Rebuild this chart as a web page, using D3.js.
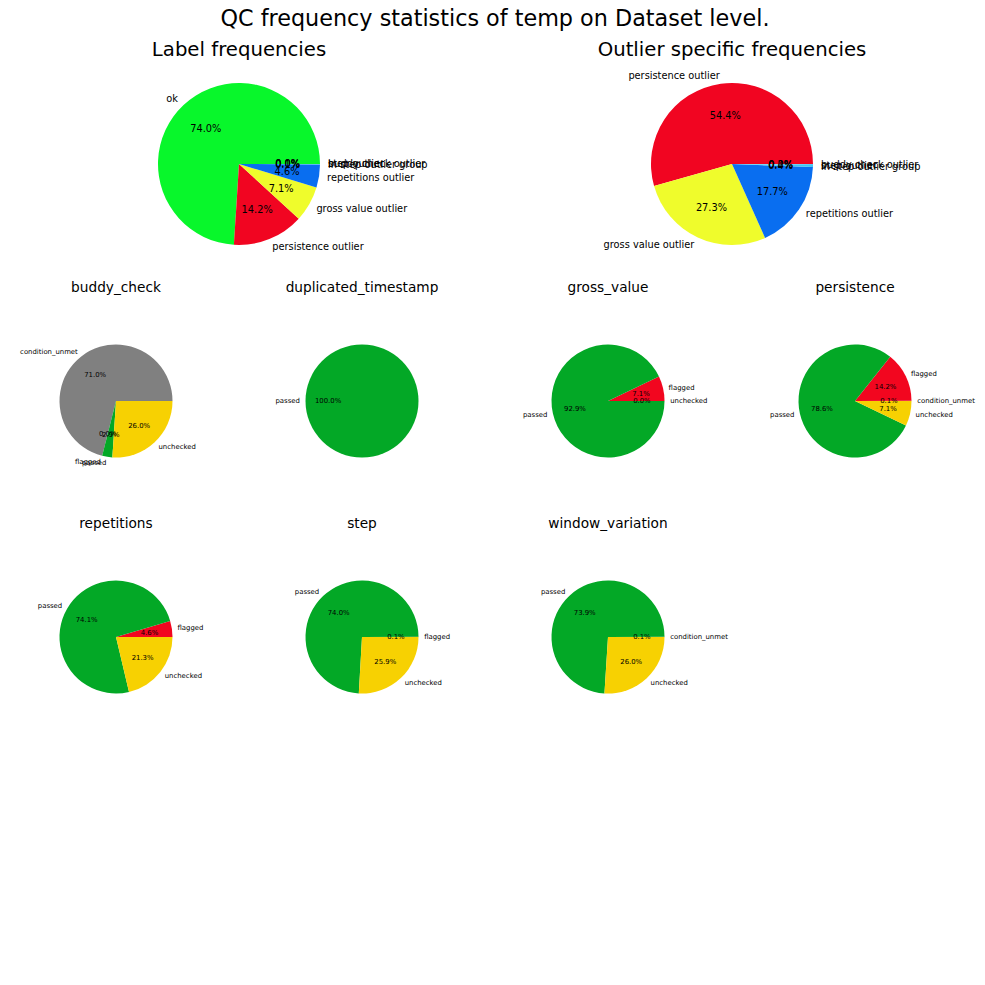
<!DOCTYPE html>
<meta charset="utf-8">
<style>
body { margin: 0; background: #fff; }
text { font-family: "DejaVu Sans", sans-serif; fill: #000; }
</style>
<body>
<script src="https://cdn.jsdelivr.net/npm/d3@7"></script>
<script>

// ---- data (percent values) ----
var labelNames = ["ok", "persistence outlier", "gross value outlier", "repetitions outlier",
                  "in step outlier group", "step outlier", "buddy check outlier"];
var labelValues = [74.0, 14.2, 7.1, 4.6, 0.1, 0.0, 0.0];

var outlierNames = ["persistence outlier", "gross value outlier", "repetitions outlier",
                    "in step outlier group", "step outlier", "buddy check outlier"];
var outlierValues = [54.4, 27.3, 17.7, 0.4, 0.0, 0.2];

var checkTitles = ["buddy_check", "duplicated_timestamp", "gross_value", "persistence",
                   "repetitions", "step", "window_variation"];
var checkCategories = [
  ["condition_unmet", "flagged", "passed", "unchecked"],
  ["passed"],
  ["flagged", "passed", "unchecked"],
  ["condition_unmet", "flagged", "passed", "unchecked"],
  ["flagged", "passed", "unchecked"],
  ["flagged", "passed", "unchecked"],
  ["condition_unmet", "passed", "unchecked"]
];
var checkValues = [
  [71.0, 0.0, 2.9, 26.0],
  [100.0],
  [7.1, 92.9, 0.0],
  [0.1, 14.2, 78.6, 7.1],
  [4.6, 74.1, 21.3],
  [0.1, 74.0, 25.9],
  [0.1, 73.9, 26.0]
];

var labelColors = {
  "ok": "#08f72b",
  "persistence outlier": "#f10521",
  "gross value outlier": "#effc2c",
  "repetitions outlier": "#096ef0",
  "in step outlier group": "#3fc6f2",
  "step outlier": "#2fb0f0",
  "buddy check outlier": "#5ccdf5"
};
var checkColors = {
  "passed": "#03a826",
  "flagged": "#f2061f",
  "unchecked": "#f7d102",
  "condition_unmet": "#808080"
};

var W = 985, H = 985;
var svg = d3.select("body").append("svg")
    .attr("width", W)
    .attr("height", H);

svg.append("text")
    .attr("x", 495).attr("y", 26)
    .attr("text-anchor", "middle")
    .style("font-size", "22.3px")
    .text("QC frequency statistics of temp on Dataset level.");

// matplotlib style pie: start at 3 o'clock, counter clockwise,
// labels at 1.1 r, percentages at 0.6 r
var pie = d3.pie().sort(null)
    .startAngle(Math.PI / 2)
    .endAngle(Math.PI / 2 - 2 * Math.PI);

function drawPie(cx, cy, r, names, values, colors, title, titleY, fs, titleFs) {
  var g = svg.append("g").attr("transform", "translate(" + cx + "," + cy + ")");
  var arcs = pie(values);
  var arc = d3.arc().innerRadius(0).outerRadius(r);

  g.selectAll("path")
    .data(arcs)
    .enter().append("path")
      .attr("d", arc)
      .attr("fill", function(d, i) { return colors[names[i]]; });

  arcs.forEach(function(d, i) {
    var a = (d.startAngle + d.endAngle) / 2;
    var lx = 1.1 * r * Math.sin(a), ly = -1.1 * r * Math.cos(a);
    g.append("text")
      .attr("x", lx).attr("y", ly)
      .attr("dy", "0.35em")
      .attr("text-anchor", lx > 0 ? "start" : "end")
      .style("font-size", fs + "px")
      .text(names[i]);
    g.append("text")
      .attr("x", 0.6 * r * Math.sin(a)).attr("y", -0.6 * r * Math.cos(a))
      .attr("dy", "0.35em")
      .attr("text-anchor", "middle")
      .style("font-size", fs + "px")
      .text(values[i].toFixed(1) + "%");
  });

  svg.append("text")
    .attr("x", cx).attr("y", titleY)
    .attr("text-anchor", "middle")
    .style("font-size", titleFs + "px")
    .text(title);
}

drawPie(239, 164, 81, labelNames, labelValues, labelColors, "Label frequencies", 56, 9.8, 19.7);
drawPie(732, 164, 81, outlierNames, outlierValues, labelColors, "Outlier specific frequencies", 56, 9.8, 19.7);

var colX = [116, 362, 608, 855];
var rowY = [401, 637];
var rowTitleY = [292, 528];
checkTitles.forEach(function(t, i) {
  var c = i % 4, rw = Math.floor(i / 4);
  drawPie(colX[c], rowY[rw], 56.5, checkCategories[i], checkValues[i], checkColors,
          t, rowTitleY[rw], 6.9, 13.7);
});

</script>
</body>
